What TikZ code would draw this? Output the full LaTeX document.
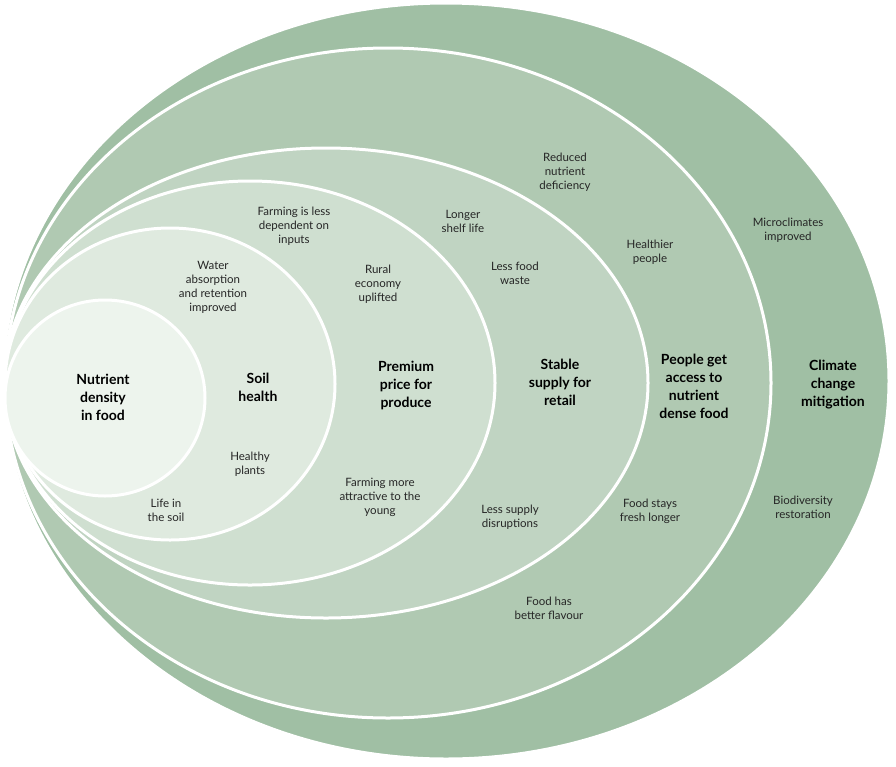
\documentclass[tikz,border=0pt]{standalone}
\usepackage{fontspec}
\setmainfont{Lato}
\begin{document}
\begin{tikzpicture}[x=1pt,y=-1pt,
  ring/.style={draw=white,line width=3pt},
  lab/.style={align=center,font=\fontsize{11.5}{14}\selectfont,text=black!85},
  ttl/.style={align=center,font=\fontsize{14}{18}\selectfont\bfseries}]
\useasboundingbox (0,0) rectangle (896,766);
\fill[ring,fill=white] (0,0) rectangle (0,0);
\path[ring,fill={rgb,255:red,160;green,191;blue,164}] (446,381) ellipse [x radius=443,y radius=378];
\path[ring,fill={rgb,255:red,176;green,201;blue,178}] (388,383) ellipse [x radius=383,y radius=335];
\path[ring,fill={rgb,255:red,192;green,212;blue,194}] (326,383) ellipse [x radius=322,y radius=235];
\path[ring,fill={rgb,255:red,207;green,223;blue,208}] (250,383) ellipse [x radius=245,y radius=202];
\path[ring,fill={rgb,255:red,223;green,234;blue,223}] (170,384) ellipse [x radius=165,y radius=156];
\path[ring,fill={rgb,255:red,237;green,244;blue,237}] (105,398) ellipse [x radius=100,y radius=98];
\node[ttl] (t1) at (103,397) {Nutrient\\density\\in food};
\node[ttl] (t2) at (258,387) {Soil\\health};
\node[ttl] (t3) at (406,385) {Premium\\price for\\produce};
\node[ttl] (t4) at (560,382) {Stable\\supply for\\retail};
\node[ttl] (t5) at (694,386) {People get\\access to\\nutrient\\dense food};
\node[ttl] (t6) at (833,385) {Climate\\change\\mitigation};
\node[lab] (a1) at (213,287) {Water\\absorption\\and retention\\improved};
\node[lab] (a2) at (250,464) {Healthy\\plants};
\node[lab] (a3) at (166,510) {Life in\\the soil};
\node[lab] (b1) at (294,226) {Farming is less\\dependent on\\inputs};
\node[lab] (b2) at (378,284) {Rural\\economy\\uplifted};
\node[lab] (b3) at (380,497) {Farming more\\attractive to the\\young};
\node[lab] (c1) at (463,221) {Longer\\shelf life};
\node[lab] (c2) at (515,273) {Less food\\waste};
\node[lab] (c3) at (510,517) {Less supply\\disruptions};
\node[lab] (d1) at (565,172) {Reduced\\nutrient\\deficiency};
\node[lab] (d2) at (650,252) {Healthier\\people};
\node[lab] (d3) at (650,511) {Food stays\\fresh longer};
\node[lab] (d4) at (549,608) {Food has\\better flavour};
\node[lab] (e1) at (788,230) {Microclimates\\improved};
\node[lab] (e2) at (803,507) {Biodiversity\\restoration};
\end{tikzpicture}
\end{document}
